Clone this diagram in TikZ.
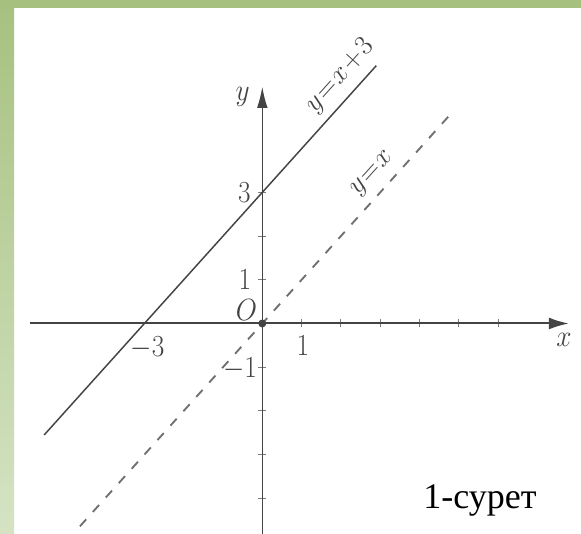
\documentclass[tikz,border=0pt]{standalone}
\usepackage{fix-cm}
\usepackage{fontspec}
\newfontfamily\capfont{Liberation Serif}
\usetikzlibrary{arrows.meta}
\definecolor{frametop}{HTML}{A6C17F}
\definecolor{framebot}{HTML}{D5E3C3}
\definecolor{ink}{HTML}{444444}
\definecolor{dashink}{HTML}{707070}
\newcommand{\tallbox}[1]{\scalebox{1}[1.12]{#1}}
\begin{document}
\begin{tikzpicture}[x=0.75pt,y=0.75pt,
  lbl/.style={font=\fontsize{20.5}{21}\selectfont, text=ink, inner sep=0pt},
  rlbl/.style={font=\fontsize{21}{21}\selectfont, text=ink, inner sep=0pt, rotate=48},
  axisline/.style={draw=ink, line width=1.5pt},
  graphline/.style={draw=ink, line width=1.1pt},
  dashline/.style={draw=dashink, line width=1.4pt, dash pattern=on 7pt off 7.5pt},
  tickmark/.style={draw=ink!70, line width=0.8pt}]
\useasboundingbox (0,0) rectangle (581,534);
\fill[white] (0,0) rectangle (581,534);
\shade[top color=frametop, bottom color=framebot] (0,0) rectangle (14,534);
\fill[frametop] (0,526) rectangle (581,534);
\begin{scope}
\clip (14,0) rectangle (581,526);
\begin{scope}[shift={(262.3,210.5)}, x=29.475pt, y=32.775pt]
  \coordinate (xs) at (-5.92,0);
  \coordinate (xe) at (7.8,0);
  \coordinate (ys) at (0,-5.2);
  \coordinate (ye) at (0,5.42);
  \coordinate (o) at (0,0);
  \coordinate (as) at (-5.55,-2.55);
  \coordinate (ae) at (2.9,5.9);
  \coordinate (bs) at (-4.64,-4.64);
  \coordinate (be) at (4.78,4.78);
  % ticks
  \foreach \i in {1,...,6} \draw[tickmark] (\i,0) ++(0,-3pt) -- ++(0,6pt);
  \foreach \j in {-4,-3,-2,-1,1,2,3} \draw[tickmark] (0,\j) ++(-3pt,0) -- ++(6pt,0);
  % lines
  \draw[dashline] (bs) -- (be);
  \draw[graphline] (as) -- (ae);
  \draw[draw=ink, line width=1.1pt, -{Latex[length=16pt,width=8pt]}] (ys) -- (ye);
  \draw[axisline,-{Latex[length=15pt,width=9pt]}] (xs) -- (xe);
  \fill[ink] (o) circle (3pt);
\end{scope}
\end{scope}
\node[lbl] (ly) at (242.6,437) {\tallbox{$y$}};
\node[lbl] (lx) at (564,194) {\tallbox{$x$}};
\node[lbl] (l3) at (244.5,341) {\tallbox{$3$}};
\node[lbl] (l1y) at (245,254) {\tallbox{$1$}};
\node[lbl] (lO) at (246.5,224) {\tallbox{$O$}};
\node[lbl] (l1x) at (303,188) {\tallbox{$1$}};
\node[lbl] (lm1) at (240,165) {\tallbox{$-1$}};
\node[lbl] (lm3) at (147.5,186) {\tallbox{$-3$}};
\node[rlbl] (la) at (340,458) {$y\mkern1mu{=}\mkern1mu x\mkern1mu{+}\mkern1mu 3$};
\node[rlbl] (lb) at (373,360) {$y\mkern1mu{=}\mkern1mu x$};
\node[font=\capfont\fontsize{27}{27}\selectfont, anchor=base, inner sep=0pt] (cap) at (480,25) {1-сурет};
\end{tikzpicture}
\end{document}
